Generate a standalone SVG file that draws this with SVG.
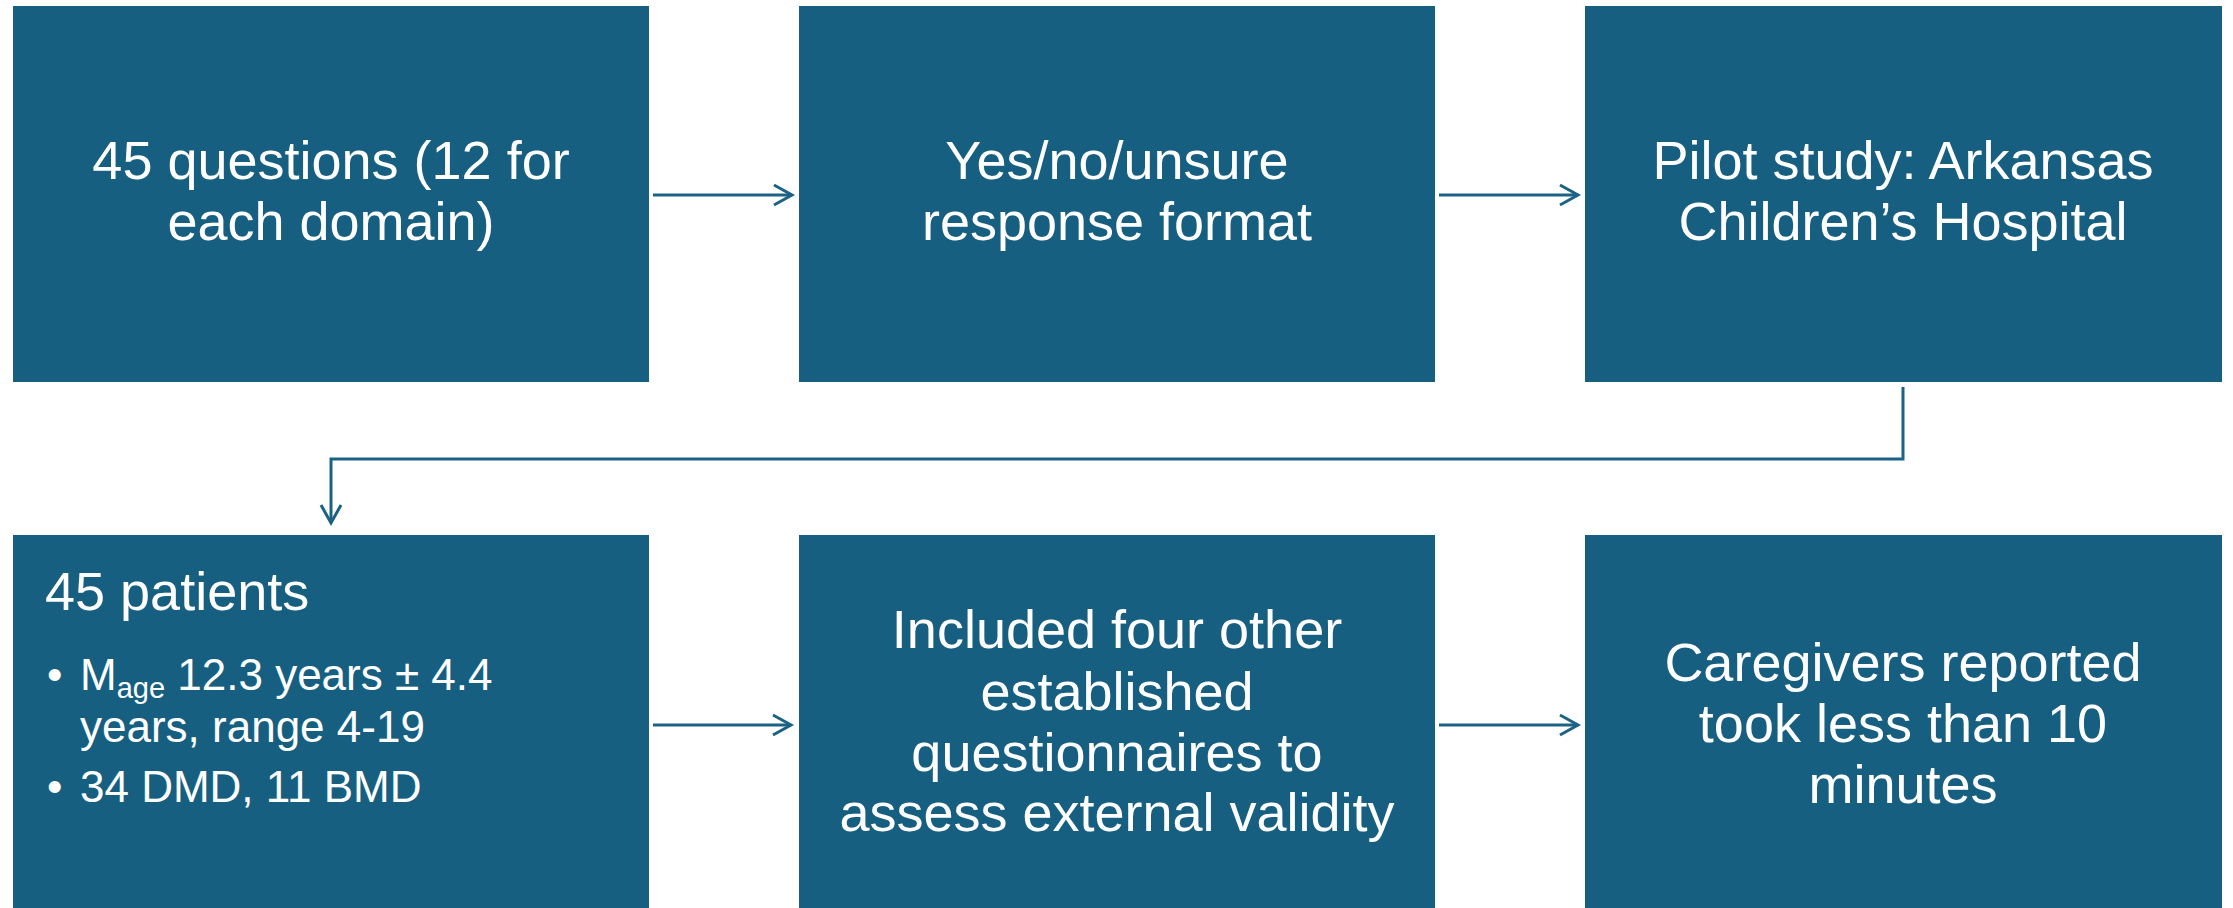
<svg xmlns="http://www.w3.org/2000/svg" width="2233" height="908" viewBox="0 0 2233 908">
<style>
.box{fill:#175f81}
.t{font-family:"Liberation Sans",Arial,sans-serif;font-size:54px;fill:#ffffff}
.c{text-anchor:middle}
.b{font-family:"Liberation Sans",Arial,sans-serif;font-size:44px;fill:#ffffff}
.conn{fill:none;stroke:#1b6284;stroke-width:3}
</style>
<defs>
<marker id="arr" markerUnits="userSpaceOnUse" viewBox="-22 -13 26 26" refX="0" refY="0" markerWidth="26" markerHeight="26" orient="auto" overflow="visible">
<path d="M-18,-10 L0,0 L-18,10" fill="none" stroke="#1b6284" stroke-width="3"/>
</marker>
</defs>
<rect width="2233" height="908" fill="#ffffff"/>
<g id="n1">
<rect class="box" x="13" y="6" width="636" height="376"/>
<text class="t c" x="331" y="179">45 questions (12 for</text>
<text class="t c" x="331" y="240">each domain)</text>
</g>
<g id="n2">
<rect class="box" x="799" y="6" width="636" height="376"/>
<text class="t c" x="1117" y="179">Yes/no/unsure</text>
<text class="t c" x="1117" y="240">response format</text>
</g>
<g id="n3">
<rect class="box" x="1585" y="6" width="637" height="376"/>
<text class="t c" x="1903" y="179">Pilot study: Arkansas</text>
<text class="t c" x="1903" y="240">Children’s Hospital</text>
</g>
<g id="n4">
<rect class="box" x="13" y="535" width="636" height="376"/>
<text class="t" x="45" y="610">45 patients</text>
<text class="b" x="47" y="690">•</text>
<text class="b" x="80" y="690">M<tspan font-size="29px" dy="8">age</tspan><tspan dy="-8"> 12.3 years ± 4.4</tspan></text>
<text class="b" x="80" y="742">years, range 4-19</text>
<text class="b" x="47" y="802">•</text>
<text class="b" x="80" y="802">34 DMD, 11 BMD</text>
</g>
<g id="n5">
<rect class="box" x="799" y="535" width="636" height="376"/>
<text class="t c" x="1117" y="648">Included four other</text>
<text class="t c" x="1117" y="710">established</text>
<text class="t c" x="1117" y="771">questionnaires to</text>
<text class="t c" x="1117" y="831">assess external validity</text>
</g>
<g id="n6">
<rect class="box" x="1585" y="535" width="637" height="376"/>
<text class="t c" x="1903" y="681">Caregivers reported</text>
<text class="t c" x="1903" y="742">took less than 10</text>
<text class="t c" x="1903" y="803">minutes</text>
</g>
<g id="connectors">
<path class="conn" d="M653,195 H792" marker-end="url(#arr)"/>
<path class="conn" d="M1439,195 H1578" marker-end="url(#arr)"/>
<path class="conn" d="M1903,387 V459 H331 V523" marker-end="url(#arr)"/>
<path class="conn" d="M653,725 H791" marker-end="url(#arr)"/>
<path class="conn" d="M1439,725 H1578" marker-end="url(#arr)"/>
</g>
</svg>
